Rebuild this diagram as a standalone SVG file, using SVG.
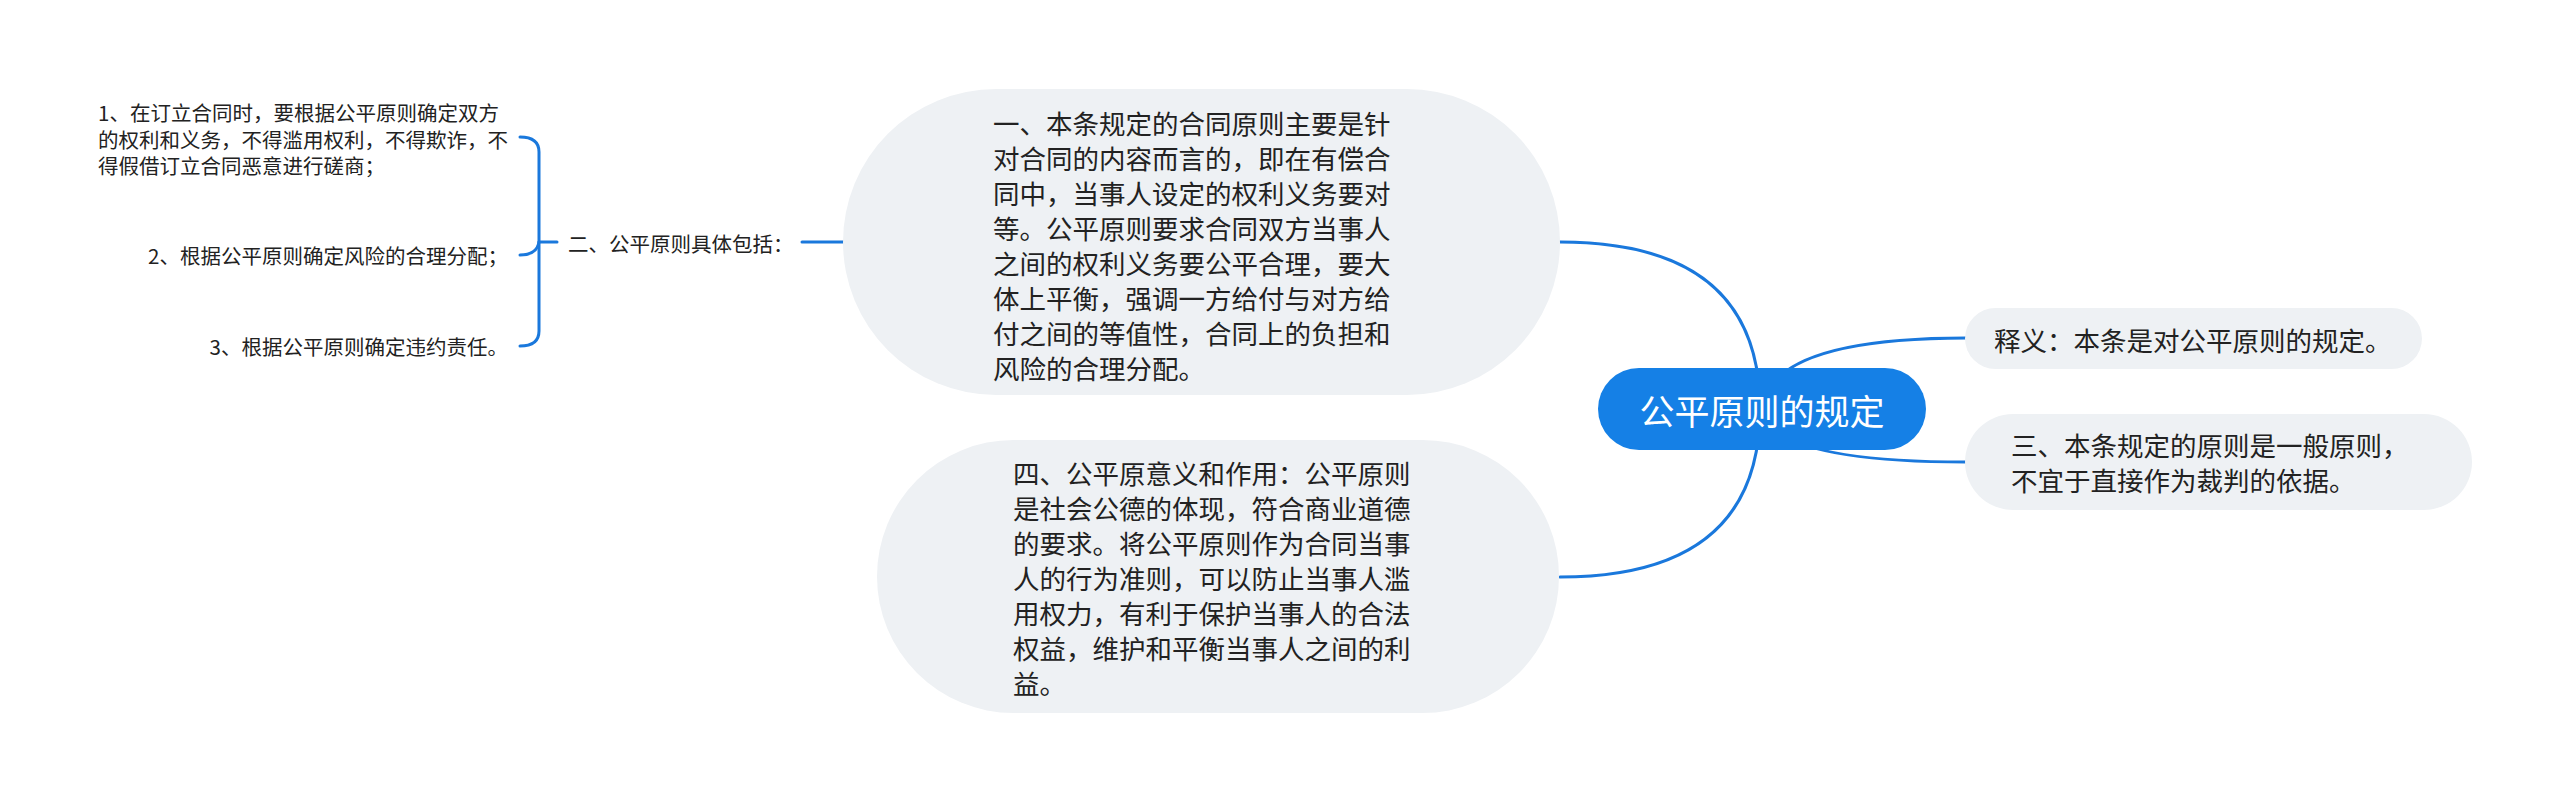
<svg xmlns="http://www.w3.org/2000/svg" width="2560" height="801" viewBox="0 0 2560 801">
<style>
.line{fill:none;stroke:#1a78dc;stroke-width:3;stroke-linecap:round}
.sub{fill:#eef1f4}
.t{font-family:"Noto Sans CJK SC","Noto Sans",sans-serif;fill:#222;dominant-baseline:central}
.big{font-size:26.5px}
.small{font-size:20.5px}
.root{font-size:35px;fill:#fff}
</style>
<rect width="2560" height="801" fill="#fff"/>
<g id="connectors">
<path class="line" d="M1560 242 Q1760 242 1760 409"/>
<path class="line" d="M1560 577 Q1760 577 1760 409"/>
<path class="line" d="M1762 409 Q1770 338 1966 338"/>
<path class="line" d="M1762 409 Q1770 462 1966 462"/>
<path class="line" d="M802 242 L845 242"/>
<path class="line" d="M539 242 L557 242"/>
<path class="line" d="M520 137 Q539 137 539 152 L539 331 Q539 346 520 346"/>
<path class="line" d="M520 255 Q537 255 539 242"/>
</g>
<g id="root">
<rect x="1598" y="368" width="328" height="82" rx="41" fill="#1580e6"/>
<text class="t root" x="1762" y="409" text-anchor="middle">公平原则的规定</text>
</g>
<g id="n-shiyi">
<rect class="sub" x="1965" y="308" width="457" height="61" rx="30.5"/>
<text class="t big" x="1994" y="339">释义：本条是对公平原则的规定。</text>
</g>
<g id="n-san">
<rect class="sub" x="1965" y="414" width="507" height="96" rx="48"/>
<text class="t big" x="2011" y="444.5">三、本条规定的原则是一般原则，</text>
<text class="t big" x="2011" y="479.5">不宜于直接作为裁判的依据。</text>
</g>
<g id="n-yi">
<rect class="sub" x="843" y="89" width="717" height="306" rx="153"/>
<text class="t big" x="993">
<tspan x="993" y="122">一、本条规定的合同原则主要是针</tspan>
<tspan x="993" y="157">对合同的内容而言的，即在有偿合</tspan>
<tspan x="993" y="192">同中，当事人设定的权利义务要对</tspan>
<tspan x="993" y="227">等。公平原则要求合同双方当事人</tspan>
<tspan x="993" y="262">之间的权利义务要公平合理，要大</tspan>
<tspan x="993" y="297">体上平衡，强调一方给付与对方给</tspan>
<tspan x="993" y="332">付之间的等值性，合同上的负担和</tspan>
<tspan x="993" y="367">风险的合理分配。</tspan>
</text>
</g>
<g id="n-si">
<rect class="sub" x="877" y="440" width="682" height="273" rx="136.5"/>
<text class="t big" x="1013">
<tspan x="1013" y="472">四、公平原意义和作用：公平原则</tspan>
<tspan x="1013" y="507">是社会公德的体现，符合商业道德</tspan>
<tspan x="1013" y="542">的要求。将公平原则作为合同当事</tspan>
<tspan x="1013" y="577">人的行为准则，可以防止当事人滥</tspan>
<tspan x="1013" y="612">用权力，有利于保护当事人的合法</tspan>
<tspan x="1013" y="647">权益，维护和平衡当事人之间的利</tspan>
<tspan x="1013" y="682">益。</tspan>
</text>
</g>
<g id="n-er">
<text class="t small" x="568" y="243">二、公平原则具体包括：</text>
</g>
<g id="n-er-1">
<text class="t small">
<tspan x="98" y="112">1、在订立合同时，要根据公平原则确定双方</tspan>
<tspan x="98" y="138.5">的权利和义务，不得滥用权利，不得欺诈，不</tspan>
<tspan x="98" y="165">得假借订立合同恶意进行磋商；</tspan>
</text>
</g>
<g id="n-er-2">
<text class="t small" x="508" y="255" text-anchor="end">2、根据公平原则确定风险的合理分配；</text>
</g>
<g id="n-er-3">
<text class="t small" x="508" y="346" text-anchor="end">3、根据公平原则确定违约责任。</text>
</g>
</svg>
